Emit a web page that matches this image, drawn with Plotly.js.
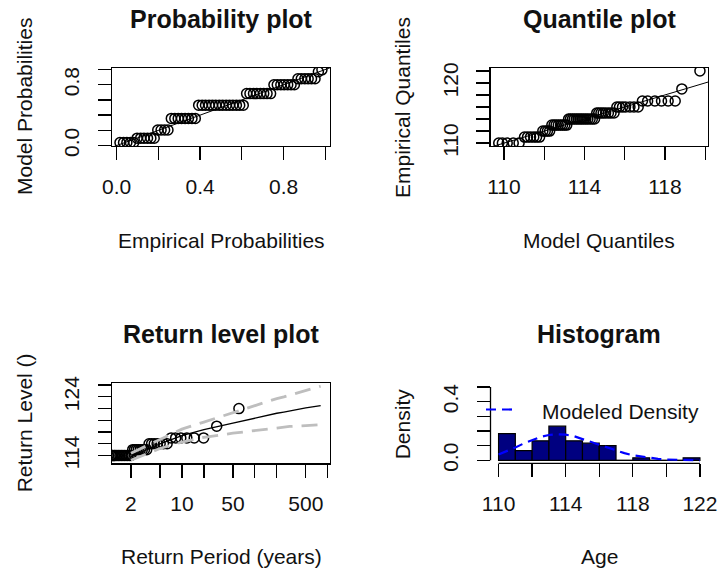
<!DOCTYPE html>
<html>
<head>
<meta charset="utf-8">
<script src="https://cdn.plot.ly/plotly-3.0.1.min.js"></script>
<style>
  html, body { margin: 0; padding: 0; background: #ffffff; }
  #plot { width: 719px; height: 573px; }
</style>
</head>
<body>
<div id="plot"></div>
<script>
// Sorted sample of ages at death (years), n = 60
const ageSorted = [
  110, 110, 110, 110, 110,
  111, 111, 111, 111, 111, 111,
  112, 112, 112, 112,
  113, 113, 113, 113, 113, 113, 113, 113,
  114, 114, 114, 114, 114, 114, 114, 114, 114, 114, 114, 114, 114, 114,
  115, 115, 115, 115, 115, 115, 115, 115,
  116, 116, 116, 116, 116, 116, 116,
  117, 117, 117, 117, 117, 117,
  119, 122
];

// Empirical (plotting-position) probabilities of the sorted sample
const empiricalProb = [
  0.016, 0.033, 0.049, 0.066, 0.082,
  0.098, 0.115, 0.131, 0.148, 0.164, 0.180,
  0.197, 0.213, 0.230, 0.246,
  0.262, 0.279, 0.295, 0.311, 0.328, 0.344, 0.361, 0.377,
  0.393, 0.410, 0.426, 0.443, 0.459, 0.475, 0.492, 0.508, 0.525, 0.541, 0.557, 0.574, 0.590, 0.607,
  0.623, 0.639, 0.656, 0.672, 0.689, 0.705, 0.721, 0.738,
  0.754, 0.770, 0.787, 0.803, 0.820, 0.836, 0.852,
  0.869, 0.885, 0.902, 0.918, 0.934, 0.951,
  0.967, 0.984
];

// Fitted-model probabilities of the sorted sample
const modelProb = [
  0.040, 0.040, 0.040, 0.040, 0.040,
  0.097, 0.097, 0.097, 0.097, 0.097, 0.097,
  0.205, 0.205, 0.205, 0.205,
  0.357, 0.357, 0.357, 0.357, 0.357, 0.357, 0.357, 0.357,
  0.531, 0.531, 0.531, 0.531, 0.531, 0.531, 0.531, 0.531, 0.531, 0.531, 0.531, 0.531, 0.531, 0.531,
  0.683, 0.683, 0.683, 0.683, 0.683, 0.683, 0.683, 0.683,
  0.800, 0.800, 0.800, 0.800, 0.800, 0.800, 0.800,
  0.878, 0.878, 0.878, 0.878, 0.878, 0.878,
  0.970, 0.996
];

// Fitted-model quantiles at the empirical probabilities
const modelQuantile = [
  109.74, 109.92, 110.16, 110.46, 110.75,
  111.02, 111.17, 111.32, 111.48, 111.62, 111.77,
  111.93, 112.05, 112.16, 112.27,
  112.38, 112.49, 112.59, 112.70, 112.81, 112.91, 113.02, 113.12,
  113.21, 113.30, 113.40, 113.49, 113.59, 113.68, 113.78, 113.87, 113.97, 114.07, 114.17, 114.28, 114.39, 114.50,
  114.61, 114.71, 114.82, 114.93, 115.05, 115.19, 115.32, 115.47,
  115.61, 115.74, 115.89, 116.04, 116.26, 116.46, 116.67,
  116.88, 117.14, 117.50, 117.83, 118.16, 118.51,
  118.84, 119.74
];

// Return periods (years) of the upper part of the sorted sample, and their levels
const obsPeriod = [
  1.072, 1.121, 1.173, 1.227, 1.284, 1.345, 1.409, 1.477, 1.550, 1.628, 1.711, 1.800, 1.896, 2.000,
  2.113, 2.235, 2.370, 2.517, 2.680, 2.860, 3.061, 3.287,
  3.544, 3.836, 4.172, 4.566, 5.030, 5.587, 6.266,
  7.117, 8.203, 9.653, 11.68, 14.75, 19.84,
  30.01, 60.50
];
const obsLevel = [
  114, 114, 114, 114, 114, 114, 114, 114, 114, 114, 114, 114, 114, 114,
  115, 115, 115, 115, 115, 115, 115, 115,
  116, 116, 116, 116, 116, 116, 116,
  117, 117, 117, 117, 117, 117,
  119, 122
];

// Estimated return levels with 95% confidence bounds
const rlPeriods = [2, 5, 10, 20, 50, 80, 100, 120, 200, 250, 300, 500, 800];
const rlFit     = [113.8, 116.0, 117.4, 118.4, 119.5, 120.1, 120.4, 120.6, 121.2, 121.4, 121.6, 122.1, 122.5];
const rlLower   = [113.2, 115.2, 116.3, 117.1, 117.8, 118.1, 118.3, 118.4, 118.7, 118.85, 118.95, 119.1, 119.25];
const rlUpper   = [114.4, 116.8, 118.5, 119.7, 121.3, 122.2, 122.6, 122.9, 123.7, 124.0, 124.3, 125.1, 125.8];

// Histogram of the sample (unit-width bins) and the fitted density
const histBreaks  = [110, 111, 112, 113, 114, 115, 116, 117, 118, 119, 120, 121, 122];
const histDensity = [0.183, 0.067, 0.133, 0.233, 0.133, 0.117, 0.100, 0.000, 0.017, 0.000, 0.000, 0.017];
const densAge = [110, 110.5, 111, 111.5, 112, 112.5, 113, 113.5, 114, 114.5, 115, 115.5, 116,
                 116.5, 117, 117.5, 118, 118.5, 119, 119.5, 120, 120.5, 121, 121.5, 122];
const densValue = [0.040, 0.062, 0.088, 0.115, 0.140, 0.160, 0.173, 0.178, 0.175, 0.165, 0.145, 0.126, 0.105,
                   0.085, 0.066, 0.049, 0.035, 0.025, 0.016, 0.010, 0.006, 0.004, 0.002, 0.001, 0.000];

// 1:1 reference lines
const diagProb = [-0.1, 1.1];
const diagQuant = [105, 125];

// Axis ticks and labels
const probTicks = [0, 0.2, 0.4, 0.6, 0.8, 1.0];
const probXLabels = ['0.0', '', '0.4', '', '0.8', ''];
const probYLabels = ['0.0', '', '', '', '0.8', ''];
const qxTicks = [110, 112, 114, 116, 118, 120];
const qxLabels = ['110', '', '114', '', '118', ''];
const qyTicks = [110, 112, 114, 116, 118, 120, 122];
const qyLabels = ['110', '', '', '', '', '120', ''];
const rpTicks = [2, 5, 10, 20, 50, 100, 200, 500, 1000];
const rpLabels = ['2', '', '10', '', '50', '', '', '500', ''];
const rlTicks = [114, 116, 118, 120, 122, 124, 126];
const rlLabels = ['114', '', '', '', '', '124', ''];
const ageTicks = [110, 112, 114, 116, 118, 120, 122];
const ageLabels = ['110', '', '114', '', '118', '', '122'];
const densTicks = [0, 0.1, 0.2, 0.3, 0.4, 0.5];
const densLabels = ['0.0', '', '', '', '0.4', ''];

// ---- layout helpers (pixel positions on the 719 x 573 page) ----
const W = 719, H = 573;
const px = v => v / W;
const py = v => 1 - v / H;

const FONT = 'Liberation Sans, Arial, Helvetica, sans-serif';
const INK = '#111111';

const boxes = {
  p1: { l: 112, r: 330, t: 68, b: 146 },
  p2: { l: 490.7, r: 708, t: 68, b: 146 },
  p3: { l: 112, r: 330, t: 383.3, b: 463.3 },
  p4: { l: 490.5, r: 708, t: 383.3, b: 463.3 }
};

function axisBase(box, horizontal, extra) {
  const a = {
    domain: horizontal ? [px(box.l), px(box.r)] : [py(box.b), py(box.t)],
    showgrid: false,
    zeroline: false,
    showline: true,
    mirror: true,
    linecolor: '#000',
    linewidth: 1.3,
    ticks: 'outside',
    ticklen: 13,
    tickwidth: 1.3,
    tickcolor: '#000',
    tickmode: 'array',
    tickfont: { family: FONT, size: 21, color: INK },
    ticklabelstandoff: horizontal ? 8 : 10,
    fixedrange: true
  };
  if (!horizontal) a.tickangle = -90;
  return Object.assign(a, extra);
}

const openCircle = { symbol: 'circle-open', size: 10, color: '#000', line: { width: 1.5, color: '#000' } };

const traces = [
  // Probability plot
  { type: 'scatter', mode: 'markers', x: empiricalProb, y: modelProb, xaxis: 'x', yaxis: 'y',
    marker: openCircle, hoverinfo: 'skip' },
  { type: 'scatter', mode: 'lines', x: diagProb, y: diagProb, xaxis: 'x', yaxis: 'y',
    line: { color: '#000', width: 1 }, hoverinfo: 'skip' },

  // Quantile plot
  { type: 'scatter', mode: 'markers', x: modelQuantile, y: ageSorted, xaxis: 'x2', yaxis: 'y2',
    marker: openCircle, hoverinfo: 'skip' },
  { type: 'scatter', mode: 'lines', x: diagQuant, y: diagQuant, xaxis: 'x2', yaxis: 'y2',
    line: { color: '#000', width: 1 }, hoverinfo: 'skip' },

  // Return level plot
  { type: 'scatter', mode: 'markers', x: obsPeriod, y: obsLevel, xaxis: 'x3', yaxis: 'y3',
    marker: openCircle, hoverinfo: 'skip' },
  { type: 'scatter', mode: 'lines', x: rlPeriods, y: rlFit, xaxis: 'x3', yaxis: 'y3',
    line: { color: '#000', width: 1.3 }, hoverinfo: 'skip' },
  { type: 'scatter', mode: 'lines', x: rlPeriods, y: rlLower, xaxis: 'x3', yaxis: 'y3',
    line: { color: '#bebebe', width: 2.8, dash: '16px,9px' }, hoverinfo: 'skip' },
  { type: 'scatter', mode: 'lines', x: rlPeriods, y: rlUpper, xaxis: 'x3', yaxis: 'y3',
    line: { color: '#bebebe', width: 2.8, dash: '16px,9px' }, hoverinfo: 'skip' },

  // Histogram with modelled density
  { type: 'bar', x: histBreaks.slice(0, -1), y: histDensity, offset: 0, width: 1,
    xaxis: 'x4', yaxis: 'y4',
    marker: { color: '#000080', line: { color: '#000', width: 1.2 } }, hoverinfo: 'skip' },
  { type: 'scatter', mode: 'lines', x: densAge, y: densValue, xaxis: 'x4', yaxis: 'y4',
    line: { color: '#0000ff', width: 2.2, dash: '10px,6px' }, hoverinfo: 'skip' }
];

function note(text, x, y, size, opts) {
  return Object.assign({
    text: text, xref: 'paper', yref: 'paper', x: px(x), y: py(y),
    xanchor: 'center', yanchor: 'middle', showarrow: false,
    font: { family: FONT, size: size, color: INK }
  }, opts || {});
}

const annotations = [
  note('<b>Probability plot</b>', 221, 19, 25),
  note('<b>Quantile plot</b>', 599.4, 19, 25),
  note('<b>Return level plot</b>', 221, 334, 25),
  note('<b>Histogram</b>', 599.4, 334, 25),
  note('Empirical Probabilities', 221, 240, 21),
  note('Model Quantiles', 599.4, 240, 21),
  note('Return Period (years)', 221, 556, 21),
  note('Age', 599.4, 556, 21),
  note('Model Probabilities', 24, 107, 21, { textangle: -90 }),
  note('Empirical Quantiles', 402, 107, 21, { textangle: -90 }),
  note('Return Level ()', 24, 423.3, 21, { textangle: -90 }),
  note('Density', 402, 423.3, 21, { textangle: -90 }),
  note('Modeled Density', 540, 411, 21, { xanchor: 'left' })
];

const shapes = [
  // histogram axis lines span first to last tick
  { type: 'line', xref: 'x4', yref: 'y4 domain', x0: 110, x1: 122, y0: 0, y1: 0,
    line: { color: '#000', width: 1.3 } },
  { type: 'line', xref: 'x4 domain', yref: 'y4', x0: 0, x1: 0, y0: 0, y1: 0.5,
    line: { color: '#000', width: 1.3 } },
  // empty-bin baseline of the histogram
  { type: 'line', xref: 'x4', yref: 'y4', x0: 110, x1: 122, y0: 0, y1: 0, layer: 'below',
    line: { color: '#000', width: 1 } },
  // legend key
  { type: 'line', xref: 'paper', yref: 'paper', x0: px(486), x1: px(512), y0: py(409.5), y1: py(409.5),
    line: { color: '#0000ff', width: 2.2, dash: '10px,6px' } }
];

const layout = {
  width: W, height: H,
  margin: { l: 0, r: 0, t: 0, b: 0 },
  paper_bgcolor: '#ffffff',
  plot_bgcolor: '#ffffff',
  showlegend: false,
  bargap: 0,
  font: { family: FONT, color: INK },
  xaxis: axisBase(boxes.p1, true, { anchor: 'y', range: [-0.0223, 1.0227], tickvals: probTicks, ticktext: probXLabels }),
  yaxis: axisBase(boxes.p1, false, { anchor: 'x', range: [-0.006, 1.02], tickvals: probTicks, ticktext: probYLabels }),
  xaxis2: axisBase(boxes.p2, true, { anchor: 'y2', range: [109.34, 120.14], tickvals: qxTicks, ticktext: qxLabels }),
  yaxis2: axisBase(boxes.p2, false, { anchor: 'x2', range: [109.52, 122.48], tickvals: qyTicks, ticktext: qyLabels }),
  xaxis3: axisBase(boxes.p3, true, { anchor: 'y3', type: 'log', range: [0.041, 3.031], tickvals: rpTicks, ticktext: rpLabels }),
  yaxis3: axisBase(boxes.p3, false, { anchor: 'x3', range: [112.68, 126.3], tickvals: rlTicks, ticktext: rlLabels }),
  xaxis4: axisBase(boxes.p4, true, { anchor: 'y4', range: [109.52, 122.48], tickvals: ageTicks, ticktext: ageLabels, showline: false, mirror: false }),
  yaxis4: axisBase(boxes.p4, false, { anchor: 'x4', range: [-0.0202, 0.526], tickvals: densTicks, ticktext: densLabels, showline: false, mirror: false }),
  annotations: annotations,
  shapes: shapes
};

Plotly.newPlot('plot', traces, layout, { staticPlot: true, displayModeBar: false });
</script>
</body>
</html>
